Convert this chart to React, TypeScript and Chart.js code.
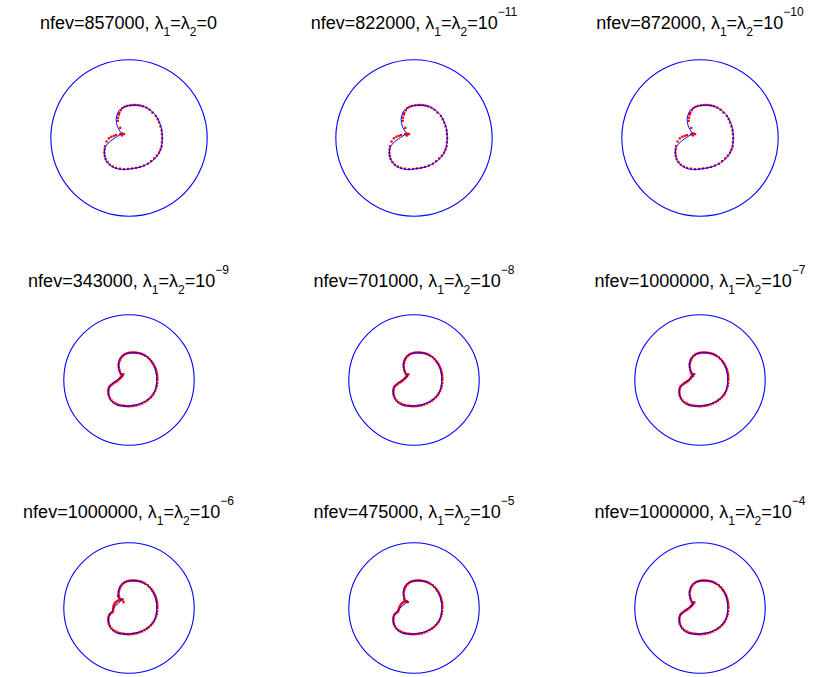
import React, { useEffect, useRef } from 'react';
import { Chart, registerables } from 'chart.js';

Chart.register(...registerables);

// ---- data ----
const NFEV = ['857000', '822000', '872000', '343000', '701000', '1000000', '1000000', '475000', '1000000'];
const LAMBDA_EXP: (string | null)[] = [null, '−11', '−10', '−9', '−8', '−7', '−6', '−5', '−4'];
const RING_RADIUS = 1;

type P = [number, number];

// blue fitted contour, main body (unit = ring radius)
const BLUE_BODY: P[] = [
  [-0.165, 0.240], [-0.144, 0.321], [-0.104, 0.374], [-0.043, 0.406], [0.039, 0.418], [0.140, 0.415],
  [0.222, 0.390], [0.302, 0.333], [0.363, 0.260], [0.405, 0.159], [0.424, 0.057], [0.424, -0.045],
  [0.405, -0.146], [0.363, -0.228], [0.302, -0.289], [0.222, -0.341], [0.140, -0.374], [0.039, -0.390],
  [-0.043, -0.402], [-0.152, -0.394], [-0.226, -0.360], [-0.287, -0.300], [-0.315, -0.207], [-0.307, -0.126],
  [-0.266, -0.065],
];
// blue contour near the cusp (before / after the body)
const BLUE_CUSP_IN: P[] = [[-0.095, 0.057], [-0.130, 0.110], [-0.152, 0.159]];
const BLUE_CUSP_OUT: P[] = [[-0.205, -0.016], [-0.144, 0.024], [-0.095, 0.057]];
const BLUE_V_IN: P[] = [[-0.099, 0.130], [-0.150, 0.150], [-0.168, 0.185]];
const BLUE_V_OUT: P[] = [[-0.229, 0.010], [-0.165, 0.070], [-0.099, 0.130]];
const BLUE_W_IN: P[] = [[-0.100, 0.100], [-0.140, 0.130], [-0.158, 0.175]];
const BLUE_W_OUT: P[] = [[-0.215, 0.000], [-0.155, 0.050], [-0.100, 0.100]];

// red sampled points, top row (sparser)
const RED_A: P[] = [
  [-0.112, 0.130], [-0.144, 0.220], [-0.140, 0.260], [-0.130, 0.300], [-0.124, 0.321], [-0.105, 0.355],
  [-0.083, 0.382], [-0.055, 0.400], [-0.022, 0.411], [0.015, 0.418], [0.048, 0.422], [0.079, 0.423],
  [0.112, 0.421], [0.145, 0.415], [0.180, 0.405], [0.222, 0.388], [0.262, 0.362], [0.300, 0.325],
  [0.344, 0.280], [0.366, 0.240], [0.384, 0.199], [0.402, 0.150], [0.417, 0.098], [0.421, 0.050],
  [0.424, -0.004], [0.421, -0.055], [0.417, -0.106], [0.402, -0.148], [0.384, -0.187], [0.355, -0.225],
  [0.323, -0.260], [0.283, -0.296], [0.241, -0.329], [0.190, -0.352], [0.140, -0.370], [0.090, -0.382],
  [0.039, -0.390], [-0.012, -0.396], [-0.063, -0.399], [-0.115, -0.392], [-0.165, -0.382], [-0.208, -0.364],
  [-0.246, -0.341], [-0.275, -0.307], [-0.299, -0.268], [-0.310, -0.228], [-0.315, -0.187], [-0.312, -0.146],
  [-0.307, -0.106], [-0.287, -0.045], [-0.258, -0.004], [-0.226, 0.016], [-0.195, 0.028], [-0.165, 0.037],
  [-0.112, 0.049], [-0.083, 0.057], [-0.063, 0.049], [-0.091, 0.033],
];

// red sampled points, lower rows (denser), main body
const RED_B_BODY: P[] = [
  [-0.150, 0.160], [-0.157, 0.200], [-0.157, 0.242], [-0.150, 0.275], [-0.138, 0.310], [-0.123, 0.338],
  [-0.100, 0.365], [-0.078, 0.385], [-0.051, 0.401], [-0.020, 0.412], [0.010, 0.418], [0.040, 0.421],
  [0.070, 0.421], [0.094, 0.420], [0.125, 0.416], [0.160, 0.410], [0.191, 0.401], [0.220, 0.388],
  [0.250, 0.372], [0.287, 0.348], [0.315, 0.320], [0.340, 0.292], [0.359, 0.265], [0.378, 0.235],
  [0.395, 0.202], [0.409, 0.170], [0.418, 0.135], [0.426, 0.100], [0.432, 0.072], [0.434, 0.035],
  [0.434, 0.000], [0.432, -0.048], [0.425, -0.090], [0.414, -0.130], [0.399, -0.170], [0.380, -0.205],
  [0.360, -0.236], [0.336, -0.265], [0.305, -0.293], [0.275, -0.316], [0.239, -0.338], [0.200, -0.358],
  [0.160, -0.374], [0.119, -0.387], [0.080, -0.395], [0.040, -0.400], [0.005, -0.402], [-0.026, -0.401],
  [-0.060, -0.398], [-0.095, -0.393], [-0.135, -0.386], [-0.171, -0.377], [-0.205, -0.360], [-0.240, -0.340],
  [-0.268, -0.314], [-0.292, -0.280], [-0.308, -0.245], [-0.316, -0.210], [-0.318, -0.175], [-0.316, -0.145],
  [-0.305, -0.110], [-0.290, -0.090], [-0.268, -0.072], [-0.245, -0.055],
];
// red points near the cusp, lower rows
const RED_CUSP_N: P[] = [
  [-0.220, -0.038], [-0.196, -0.025], [-0.170, -0.005], [-0.150, 0.015], [-0.135, 0.030], [-0.122, 0.045],
  [-0.110, 0.060], [-0.100, 0.075], [-0.088, 0.088], [-0.125, 0.090], [-0.140, 0.125],
];
const RED_CUSP_R: P[] = [
  [-0.220, -0.038], [-0.196, -0.025], [-0.170, -0.005], [-0.150, 0.020], [-0.135, 0.045], [-0.130, 0.100],
  [-0.110, 0.080], [-0.090, 0.090], [-0.120, 0.065], [-0.140, 0.125],
];
const RED_CUSP_V: P[] = [
  [-0.243, -0.019], [-0.238, 0.010], [-0.235, 0.029], [-0.228, 0.050], [-0.220, 0.068], [-0.205, 0.085],
  [-0.186, 0.101], [-0.168, 0.112], [-0.148, 0.120], [-0.125, 0.127], [-0.099, 0.130], [-0.084, 0.091],
  [-0.165, 0.180],
];
const RED_CUSP_W: P[] = [
  [-0.238, -0.030], [-0.228, 0.000], [-0.215, 0.030], [-0.200, 0.055], [-0.180, 0.075], [-0.160, 0.090],
  [-0.138, 0.100], [-0.115, 0.105], [-0.095, 0.090], [-0.150, 0.130],
];

const PANEL_BLUE: P[][] = [
  [...BLUE_CUSP_IN, ...BLUE_BODY, ...BLUE_CUSP_OUT],
  [...BLUE_CUSP_IN, ...BLUE_BODY, ...BLUE_CUSP_OUT],
  [...BLUE_CUSP_IN, ...BLUE_BODY, ...BLUE_CUSP_OUT],
  [...BLUE_CUSP_IN, ...BLUE_BODY, ...BLUE_CUSP_OUT],
  [...BLUE_CUSP_IN, ...BLUE_BODY, ...BLUE_CUSP_OUT],
  [...BLUE_CUSP_IN, ...BLUE_BODY, ...BLUE_CUSP_OUT],
  [...BLUE_V_IN, ...BLUE_BODY, ...BLUE_V_OUT],
  [...BLUE_W_IN, ...BLUE_BODY, ...BLUE_W_OUT],
  [...BLUE_CUSP_IN, ...BLUE_BODY, ...BLUE_CUSP_OUT],
];
const PANEL_RED: P[][] = [
  RED_A, RED_A, RED_A,
  [...RED_B_BODY, ...RED_CUSP_N],
  [...RED_B_BODY, ...RED_CUSP_N],
  [...RED_B_BODY, ...RED_CUSP_R],
  [...RED_B_BODY, ...RED_CUSP_V],
  [...RED_B_BODY, ...RED_CUSP_W],
  [...RED_B_BODY, ...RED_CUSP_N],
];

// ---- layout ----
const COL_X = [128.5, 414, 700];
const ROW_Y = [138, 380, 608];
const ROW_R = [82, 69, 69];
const TITLE_BASE = [29, 287, 518];

const ringPlugin = {
  id: 'ring',
  beforeDatasetsDraw(chart: any, _args: any, opts: any) {
    const { ctx, scales } = chart;
    const x = scales.x, y = scales.y;
    const cx = x.getPixelForValue(0);
    const cy = y.getPixelForValue(0);
    const rr = x.getPixelForValue(opts.r) - cx;
    ctx.save();
    ctx.strokeStyle = opts.color;
    ctx.lineWidth = 1.1;
    ctx.beginPath();
    ctx.arc(cx, cy, rr, 0, Math.PI * 2);
    ctx.stroke();
    ctx.restore();
  },
};

function Panel({ idx }: { idx: number }) {
  const ref = useRef<HTMLCanvasElement>(null);
  const row = Math.floor(idx / 3), col = idx % 3;
  const r = ROW_R[row];
  const S = Math.round(2 * r + 8);
  const L = (S / 2) / r;
  const cx = COL_X[col], cy = ROW_Y[row];

  useEffect(() => {
    const chart = new Chart(ref.current!, {
      type: 'scatter',
      data: {
        datasets: [
          {
            data: PANEL_BLUE[idx].map(([x, y]) => ({ x, y })),
            showLine: true,
            borderColor: '#0000ff',
            borderWidth: 1,
            pointRadius: 0,
            tension: 0.3,
            fill: false,
          },
          {
            data: PANEL_RED[idx].map(([x, y]) => ({ x, y })),
            showLine: false,
            pointRadius: row === 0 ? 1.6 : 1.7,
            pointStyle: 'rect',
            backgroundColor: '#ff0000',
            borderColor: '#ff0000',
            borderWidth: 0,
          },
        ],
      },
      options: {
        animation: false,
        responsive: false,
        maintainAspectRatio: false,
        layout: { padding: 0 },
        scales: {
          x: { type: 'linear', min: -L, max: L, display: false },
          y: { type: 'linear', min: -L, max: L, display: false },
        },
        plugins: {
          legend: { display: false },
          tooltip: { enabled: false },
          ring: { r: RING_RADIUS, color: '#0000ff' },
        } as any,
      },
      plugins: [ringPlugin],
    });
    return () => chart.destroy();
  }, [idx]);

  const exp = LAMBDA_EXP[idx];
  const subStyle: React.CSSProperties = { fontSize: '12px', position: 'relative', top: '7px' };
  const supStyle: React.CSSProperties = { fontSize: '12px', position: 'relative', top: '-13px' };
  return (
    <>
      <div
        style={{
          position: 'absolute',
          left: cx - 150,
          width: 300,
          top: TITLE_BASE[row] - 16,
          textAlign: 'center',
          fontFamily: '"Liberation Sans", Arial, sans-serif',
          fontSize: '18px',
          lineHeight: '20px',
          whiteSpace: 'nowrap',
          color: '#000',
        }}
      >
        nfev={NFEV[idx]}, λ<span style={subStyle}>1</span>=λ<span style={subStyle}>2</span>=
        {exp === null ? '0' : (<>10<span style={supStyle}>{exp}</span></>)}
      </div>
      <canvas
        ref={ref}
        width={S}
        height={S}
        style={{ position: 'absolute', left: cx - S / 2, top: cy - S / 2, width: S, height: S }}
      />
    </>
  );
}

export default function App() {
  return (
    <div style={{ position: 'absolute', left: 0, top: 0, width: 815, height: 677, background: '#fff', overflow: 'hidden' }}>
      {Array.from({ length: 9 }, (_, i) => (
        <Panel key={i} idx={i} />
      ))}
    </div>
  );
}
